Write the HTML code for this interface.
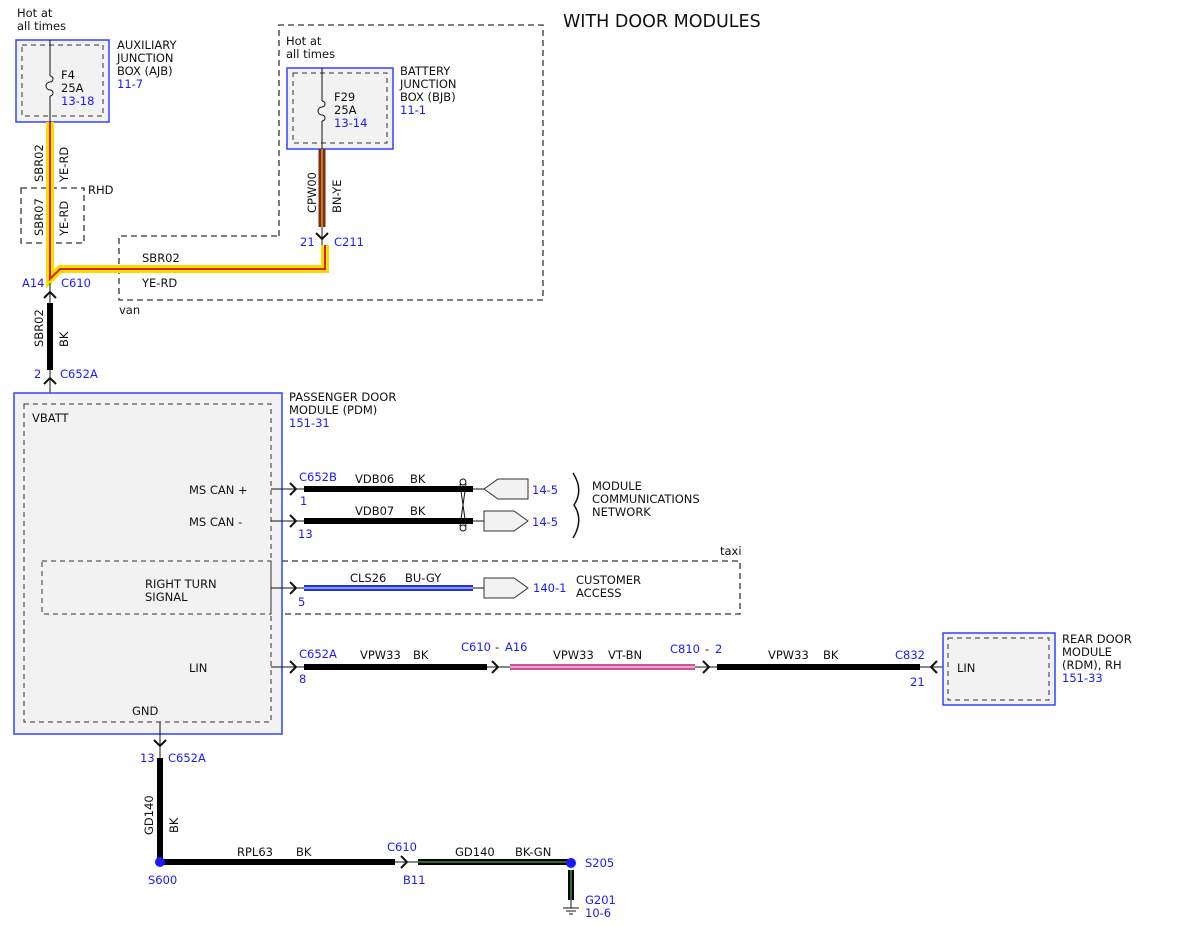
<!DOCTYPE html>
<html><head><meta charset="utf-8"><style>
html,body{margin:0;padding:0;background:#fff;}
svg{display:block;font-family:"DejaVu Sans","Liberation Sans",sans-serif;font-size:11.5px;}
.b{fill:#1a1aff}
.k{fill:#111}
</style></head><body>
<svg width="1200" height="927" viewBox="0 0 1200 927" xmlns="http://www.w3.org/2000/svg">
<g fill="none" stroke="#333" stroke-dasharray="6,4" stroke-width="1.3">
<path d="M279,236 V25 H543 V300 H119 V236 Z"/>
<rect x="21" y="188" width="63" height="55"/>
<rect x="42" y="561" width="698" height="53"/>
</g>
<text x="563" y="27" style="font-size:17.5px" class="k">WITH DOOR MODULES</text>
<!-- AJB -->
<rect x="16" y="40" width="93" height="82" fill="#f2f2f2" stroke="#3344ff" stroke-width="1.5"/>
<rect x="22" y="45" width="81" height="71" fill="none" stroke="#333" stroke-dasharray="5,4"/>
<path d="M50,40 V76 M50,96 V122" stroke="#111"/>
<path d="M50,76 a3,3 0 0 1 0,6 a4,4 0 0 0 0,8 a3,3 0 0 1 0,6" fill="none" stroke="#111"/>
<text x="17" y="17" class="k">Hot at</text><text x="17" y="30" class="k">all times</text>
<text x="61" y="79" class="k">F4</text><text x="61" y="92" class="k">25A</text><text x="61" y="105" class="b">13-18</text>
<text x="117" y="49" class="k">AUXILIARY</text><text x="117" y="62" class="k">JUNCTION</text><text x="117" y="75" class="k">BOX (AJB)</text><text x="117" y="88" class="b">11-7</text>
<!-- BJB -->
<rect x="287" y="68" width="106" height="81" fill="#f2f2f2" stroke="#3344ff" stroke-width="1.5"/>
<rect x="293" y="73" width="94" height="70" fill="none" stroke="#333" stroke-dasharray="5,4"/>
<path d="M322,68 V101 M322,121 V149" stroke="#111"/>
<path d="M322,101 a3,3 0 0 1 0,6 a4,4 0 0 0 0,8 a3,3 0 0 1 0,6" fill="none" stroke="#111"/>
<text x="286" y="45" class="k">Hot at</text><text x="286" y="58" class="k">all times</text>
<text x="334" y="101" class="k">F29</text><text x="334" y="114" class="k">25A</text><text x="334" y="127" class="b">13-14</text>
<text x="400" y="75" class="k">BATTERY</text><text x="400" y="88" class="k">JUNCTION</text><text x="400" y="101" class="k">BOX (BJB)</text><text x="400" y="114" class="b">11-1</text>
<!-- BN-YE wire -->
<path d="M322,149 V227" stroke="#7a2a1a" stroke-width="7"/>
<path d="M322,149 V227" stroke="#e0a000" stroke-width="1.5"/>
<path d="M322,227 V245" stroke="#111"/>
<path d="M316,233 L322,239 L328,233" fill="none" stroke="#111" stroke-width="2"/>
<!-- YE-RD wire -->
<path d="M50,122 V279 L60,269 H325 V245" fill="none" stroke="#f2e000" stroke-width="8"/>
<path d="M50,122 V279 L60,269 H325 V245" fill="none" stroke="#e02020" stroke-width="2"/>
<text transform="translate(43,182) rotate(-90)" class="k">SBR02</text>
<text transform="translate(68,182) rotate(-90)" class="k">YE-RD</text>
<text transform="translate(43,236) rotate(-90)" class="k">SBR07</text>
<text transform="translate(68,236) rotate(-90)" class="k">YE-RD</text>
<text x="88" y="194" class="k">RHD</text>
<text transform="translate(316,213) rotate(-90)" class="k">CPW00</text>
<text transform="translate(341,213) rotate(-90)" class="k">BN-YE</text>
<text x="300" y="246" class="b">21</text><text x="334" y="246" class="b">C211</text>
<text x="142" y="262" class="k">SBR02</text><text x="142" y="287" class="k">YE-RD</text>
<text x="119" y="314" class="k">van</text>
<text x="22" y="287" class="b">A14</text><text x="61" y="287" class="b">C610</text>
<!-- SBR02 BK -->
<path d="M50,283 V393" stroke="#111"/>
<path d="M44,298 L50,292 L56,298 M44,384 L50,378 L56,384" fill="none" stroke="#111" stroke-width="2"/>
<path d="M50,303 V370" stroke="#000" stroke-width="6"/>
<text transform="translate(43,347) rotate(-90)" class="k">SBR02</text>
<text transform="translate(68,347) rotate(-90)" class="k">BK</text>
<text x="34" y="378" class="b">2</text><text x="60" y="378" class="b">C652A</text>
<!-- PDM -->
<rect x="14" y="393" width="268" height="341" fill="#f2f2f2" stroke="#3344ff" stroke-width="1.5"/>
<rect x="24" y="404" width="247" height="318" fill="none" stroke="#333" stroke-dasharray="5,4"/>
<rect x="42" y="561" width="229" height="53" fill="none" stroke="#333" stroke-dasharray="5,4"/>
<text x="32" y="422" class="k">VBATT</text>
<text x="189" y="494" class="k">MS CAN +</text>
<text x="189" y="526" class="k">MS CAN -</text>
<text x="145" y="588" class="k">RIGHT TURN</text><text x="145" y="601" class="k">SIGNAL</text>
<text x="189" y="672" class="k">LIN</text>
<text x="132" y="715" class="k">GND</text>
<text x="289" y="401" class="k">PASSENGER DOOR</text><text x="289" y="414" class="k">MODULE (PDM)</text><text x="289" y="427" class="b">151-31</text>
<!-- CAN lines -->
<g stroke="#111">
<path d="M271,489 H484 M271,521 H484 M271,588 H484 M271,667 H305"/>
<path d="M290,483 L296,489 L290,495 M290,515 L296,521 L290,527 M290,582 L296,588 L290,594 M290,661 L296,667 L290,673" fill="none" stroke-width="2"/>
</g>
<path d="M304,489 H473 M304,521 H473" stroke="#000" stroke-width="6"/>
<path d="M304,588 H473" stroke="#2233dd" stroke-width="6"/>
<path d="M304,588 H473" stroke="#fff" stroke-width="1"/>
<path d="M460,484 L466,526 M466,484 L460,526" stroke="#111"/>
<circle cx="463" cy="482" r="3" fill="#fff" stroke="#111"/><circle cx="463" cy="528" r="3" fill="#fff" stroke="#111"/>
<path d="M528,479 H498 L484,489 L498,499 H528 Z" fill="#f2f2f2" stroke="#333"/>
<path d="M484,511 H514 L528,521 L514,531 H484 Z" fill="#f2f2f2" stroke="#333"/>
<path d="M484,578 H514 L528,588 L514,598 H484 Z" fill="#f2f2f2" stroke="#333"/>
<text x="299" y="481" class="b">C652B</text><text x="300" y="505" class="b">1</text>
<text x="355" y="483" class="k">VDB06</text><text x="410" y="483" class="k">BK</text>
<text x="355" y="515" class="k">VDB07</text><text x="410" y="515" class="k">BK</text>
<text x="298" y="538" class="b">13</text>
<text x="532" y="494" class="b">14-5</text><text x="532" y="526" class="b">14-5</text>
<path d="M573,473 Q584,490 574,505 Q584,520 573,538" fill="none" stroke="#111" stroke-width="1.5"/>
<text x="592" y="490" class="k">MODULE</text><text x="592" y="503" class="k">COMMUNICATIONS</text><text x="592" y="516" class="k">NETWORK</text>
<text x="720" y="555" class="k">taxi</text>
<text x="350" y="582" class="k">CLS26</text><text x="405" y="582" class="k">BU-GY</text>
<text x="298" y="606" class="b">5</text>
<text x="533" y="592" class="b">140-1</text>
<text x="576" y="584" class="k">CUSTOMER</text><text x="576" y="597" class="k">ACCESS</text>
<!-- LIN -->
<path d="M304,667 H487" stroke="#000" stroke-width="6"/>
<path d="M487,667 H510 M695,667 H717" stroke="#111"/>
<path d="M492,661 L498,667 L492,673 M703,661 L709,667 L703,673" fill="none" stroke="#111" stroke-width="2"/>
<path d="M510,667 H695" stroke="#d050a0" stroke-width="6"/>
<path d="M510,667 H695" stroke="#fff" stroke-width="1"/>
<path d="M717,667 H920" stroke="#000" stroke-width="6"/>
<path d="M920,667 H948" stroke="#111"/>
<path d="M937,661 L931,667 L937,673" fill="none" stroke="#111" stroke-width="2"/>
<text x="299" y="658" class="b">C652A</text><text x="299" y="683" class="b">8</text>
<text x="360" y="659" class="k">VPW33</text><text x="413" y="659" class="k">BK</text>
<text x="461" y="651" class="b">C610</text><text x="495" y="651" class="k">-</text><text x="505" y="651" class="b">A16</text>
<text x="553" y="659" class="k">VPW33</text><text x="608" y="659" class="k">VT-BN</text>
<text x="670" y="653" class="b">C810</text><text x="705" y="653" class="k">-</text><text x="715" y="653" class="b">2</text>
<text x="768" y="659" class="k">VPW33</text><text x="823" y="659" class="k">BK</text>
<text x="895" y="659" class="b">C832</text><text x="910" y="686" class="b">21</text>
<rect x="943" y="633" width="112" height="72" fill="#f2f2f2" stroke="#3344ff" stroke-width="1.5"/>
<rect x="948" y="638" width="101" height="62" fill="none" stroke="#333" stroke-dasharray="5,4"/>
<text x="957" y="672" class="k">LIN</text>
<text x="1062" y="643" class="k">REAR DOOR</text><text x="1062" y="656" class="k">MODULE</text><text x="1062" y="669" class="k">(RDM), RH</text><text x="1062" y="682" class="b">151-33</text>
<!-- GND -->
<path d="M160,722 V760" stroke="#111"/>
<path d="M154,740 L160,746 L166,740" fill="none" stroke="#111" stroke-width="2"/>
<path d="M160,758 V862 H395" fill="none" stroke="#000" stroke-width="6"/>
<path d="M395,862 H418" stroke="#111"/>
<path d="M401,856 L407,862 L401,868" fill="none" stroke="#111" stroke-width="2"/>
<path d="M418,862 H568 M571,870 V900" stroke="#000" stroke-width="6"/>
<path d="M418,862 H568 M571,870 V900" stroke="#2a6a2a" stroke-width="2"/>
<path d="M571,900 V908 M563,908 H579 M566,911 H576 M569,914 H573" stroke="#111"/>
<circle cx="160" cy="862" r="5" fill="#1a1aff"/><circle cx="571" cy="863" r="5" fill="#1a1aff"/>
<text x="140" y="762" class="b">13</text><text x="168" y="762" class="b">C652A</text>
<text transform="translate(153,835) rotate(-90)" class="k">GD140</text>
<text transform="translate(178,833) rotate(-90)" class="k">BK</text>
<text x="237" y="856" class="k">RPL63</text><text x="296" y="856" class="k">BK</text>
<text x="387" y="851" class="b">C610</text><text x="403" y="884" class="b">B11</text>
<text x="455" y="856" class="k">GD140</text><text x="515" y="856" class="k">BK-GN</text>
<text x="148" y="884" class="b">S600</text><text x="585" y="867" class="b">S205</text>
<text x="585" y="904" class="b">G201</text><text x="585" y="917" class="b">10-6</text>
</svg>
</body></html>
